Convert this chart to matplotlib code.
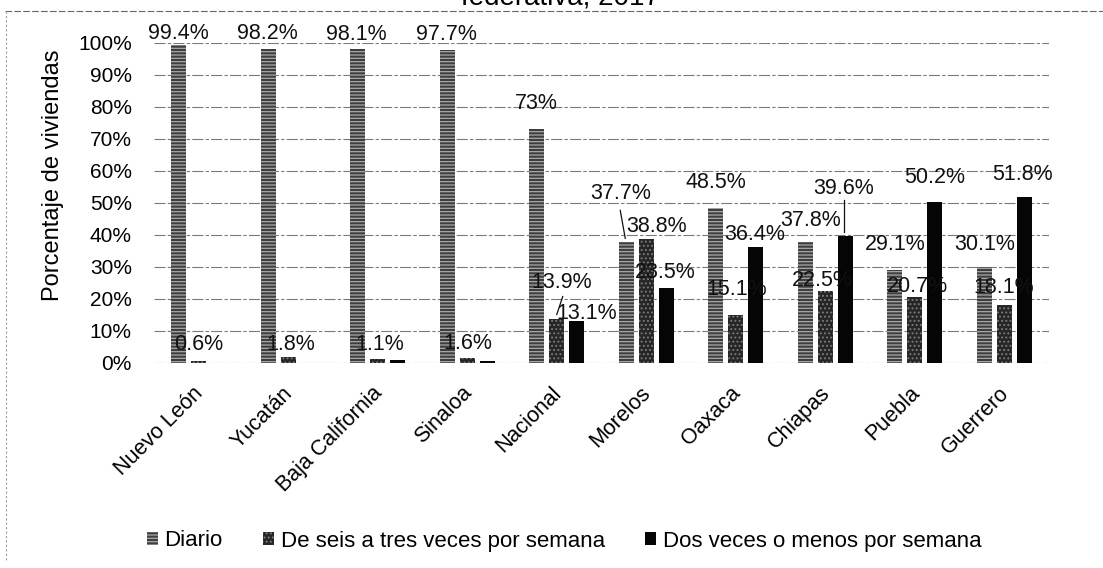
import matplotlib
matplotlib.use("Agg")
import matplotlib.pyplot as plt
from matplotlib.patches import Patch
from matplotlib.lines import Line2D
import matplotlib.transforms as mtransforms
import numpy as np

plt.rcParams['font.family'] = ['Liberation Sans', 'DejaVu Sans']
plt.rcParams['hatch.linewidth'] = 0.9

# ---------------- data ----------------
categories = ["Nuevo León", "Yucatán", "Baja California", "Sinaloa", "Nacional",
              "Morelos", "Oaxaca", "Chiapas", "Puebla", "Guerrero"]
series_names = ["Diario", "De seis a tres veces por semana", "Dos veces o menos por semana"]
diario = [99.4, 98.2, 98.1, 97.7, 73, 37.7, 48.5, 37.8, 29.1, 30.1]
seis_tres = [0.6, 1.8, 1.1, 1.6, 13.9, 38.8, 15.1, 22.5, 20.7, 18.1]
dos_menos = [0.0, 0.0, 0.8, 0.7, 13.1, 23.5, 36.4, 39.6, 50.2, 51.8]
yticks = [0, 10, 20, 30, 40, 50, 60, 70, 80, 90, 100]
title_text = "federativa, 2017"
ylabel_text = "Porcentaje de viviendas"

# label offsets (pixels from bar top), None = label not shown
off_diario = [(0, 11), (-1, 15), (-1, 15), (-1, 16), (0, 26), (-6, 49), (0, 25), (5, 22), (0, 25), (0, 22)]
off_seis = [(0, 17), (2, 13), (2, 15), (1, 14), (5, 36), (10, 12), (1, 25), (-3, 11), (3, 10), (-1, 18)]
off_dos = [None, None, None, None, (10, 8), (-1, 15), (-1, 12), (-2, 48), (0, 25), (-2, 23)]
# leader lines: (series, category, start offset px, end offset px)
leaders = [(0, 5, (-6, 32), (-1, 4)), (1, 4, (6, 22), (0, 4)), (2, 7, (-1, 36), (-1, 4))]

# ---------------- figure ----------------
W, H = 1103, 568
fig = plt.figure(figsize=(W / 100, H / 100), dpi=100)
L, R, T, B = 154, 1049, 43, 363
ax = fig.add_axes([L / W, 1 - B / H, (R - L) / W, (B - T) / H])

ncat = len(categories)
x = np.arange(ncat)
step = 20 / ((R - L) / ncat)
width = 15 / ((R - L) / ncat)
ax.set_xlim(-0.5, ncat - 0.5)
ax.set_ylim(0, 100)

styles = [
    dict(color="#3e3e3e", hatch="-----", edgecolor="#a8a8a8"),
    dict(color="#262626", hatch="....", edgecolor="#7a7a7a"),
    dict(color="#050505", hatch=None, edgecolor="#050505"),
]
all_vals = [diario, seis_tres, dos_menos]
all_offs = [off_diario, off_seis, off_dos]

for j, (vals, st) in enumerate(zip(all_vals, styles)):
    xs = x + (j - 1) * step
    ax.bar(xs, vals, width=width, color=st["color"], hatch=st["hatch"],
           edgecolor=st["edgecolor"], linewidth=0, zorder=3)
    for i, (xv, v) in enumerate(zip(xs, vals)):
        off = all_offs[j][i]
        if off is None:
            continue
        ax.annotate(f"{v:g}%", xy=(xv, v), xytext=off, textcoords="offset pixels",
                    ha="center", va="center", fontsize=15.5, color="#111111",
                    zorder=4, annotation_clip=False)

ax.set_xlim(-0.5, ncat - 0.5)
ax.set_ylim(0, 100)
for (j, i, (sx, sy), (ex, ey)) in leaders:
    xv = x[i] + (j - 1) * step
    v = all_vals[j][i]
    ax.annotate("", xy=(xv, v), xytext=(xv, v), textcoords="data",
                annotation_clip=False)
    tr0 = ax.transData + mtransforms.Affine2D().translate(sx, sy)
    tr1 = ax.transData + mtransforms.Affine2D().translate(ex, ey)
    p0 = tr0.transform((xv, v))
    p1 = tr1.transform((xv, v))
    fig.add_artist(Line2D([p0[0] / W, p1[0] / W], [p0[1] / H, p1[1] / H],
                          color="#111111", lw=0.9, zorder=5))

ax.set_yticks(yticks)
ax.set_yticklabels([f"{t}%" for t in yticks], fontsize=15)
ax.tick_params(axis="y", length=0, pad=16)
ax.set_xticks(x)
ax.set_xticklabels(categories, rotation=45, ha="right", va="top",
                   rotation_mode="anchor", fontsize=15.5)
ax.tick_params(axis="x", length=0, pad=14)
shift = mtransforms.ScaledTranslation(-6 / 100, 0, fig.dpi_scale_trans)
for lbl in ax.get_xticklabels():
    lbl.set_transform(lbl.get_transform() + shift)

for s in ax.spines.values():
    s.set_visible(False)
ax.yaxis.grid(True, color="#7a7a7a", linestyle=(0, (10, 2, 3, 2)), linewidth=0.8, zorder=0)
ax.set_axisbelow(True)

fig.text(53 / W, 1 - 175 / H, ylabel_text, rotation=90, ha="center", va="center", fontsize=17)
fig.text(560 / W, 1 - 4.5 / H, title_text, ha="center", va="baseline", fontsize=20)

# frame remnants of the scanned chart
fig.add_artist(Line2D([5 / W, 1], [1 - 11 / H, 1 - 11 / H], color="#666666",
                      lw=0.8, linestyle=(0, (6, 2))))
fig.add_artist(Line2D([6 / W, 6 / W], [1 - 11 / H, 1 - 560 / H], color="#9a9a9a",
                      lw=0.8, linestyle=(0, (2, 2))))

handles = [Patch(facecolor=st["color"], hatch=st["hatch"], edgecolor=st["edgecolor"], linewidth=0)
           for st in styles]
fig.legend(handles, series_names, loc="center", bbox_to_anchor=(564 / W, 1 - 541 / H),
           ncol=3, frameon=False, fontsize=16, handlelength=0.5, handleheight=0.5,
           handletextpad=0.3, columnspacing=1.8)

fig.savefig("out.png", dpi=100)
